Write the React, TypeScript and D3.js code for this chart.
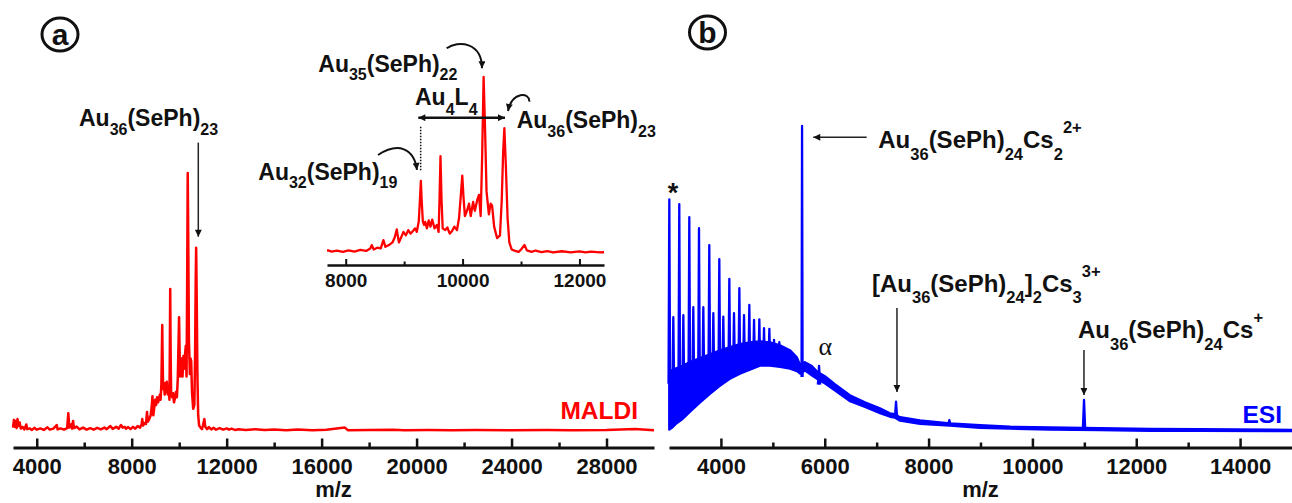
import React, { useEffect, useRef } from 'react';
import * as d3 from 'd3';

const W = 1292;
const H = 503;
const FONT = "'Liberation Sans', Arial, Helvetica, sans-serif";

// MALDI spectrum (panel a and its inset): [m/z, relative intensity %]
const maldi = [
  [3000,1.2],[3040,4.2],[3070,1.5],[3110,3.8],[3150,1],[3190,4.5],[3230,1.8],[3280,3.2],[3330,0.8],[3400,1.5],
  [3480,0.5],[3560,2.4],[3600,0.6],[3700,0.9],[3800,0.3],[3900,1.1],[4000,0.4],[4150,0.9],[4300,0.3],[4450,1.3],
  [4550,0.4],[4700,0.8],[4840,2.2],[4880,0.5],[5000,0.9],[5150,0.4],[5280,1],[5330,6.8],[5370,1.2],[5450,2.5],
  [5490,0.8],[5530,3.8],[5570,1],[5680,1.6],[5800,0.5],[5950,1.2],[6100,0.4],[6250,1],[6400,0.4],[6550,1.1],
  [6700,0.5],[6850,1.2],[6950,0.6],[7100,1.8],[7200,0.7],[7350,1.5],[7450,0.8],[7550,2.2],[7620,1.2],[7700,1.5],
  [7760,0.8],[7850,1.4],[7950,0.6],[8050,1.5],[8150,0.8],[8250,1.8],[8350,1.2],[8420,2.5],[8445,4.5],[8480,2],
  [8540,3],[8600,2.6],[8645,7.3],[8680,3.5],[8740,4.5],[8800,6],[8840,9],[8874,13.4],[8910,6],[8950,9],
  [8988,12],[9030,10],[9070,13],[9110,11],[9150,12.5],[9188,14],[9217,12],[9250,18],[9270,30],[9286,41],
  [9300,30],[9320,18],[9340,16],[9360,17.7],[9390,14],[9420,18.5],[9450,15],[9480,19],[9520,14],[9561,16],
  [9590,12],[9605,30],[9622,55],[9640,30],[9660,14],[9703,13],[9740,14.5],[9780,11],[9820,12.5],[9860,15],
  [9904,13],[9940,20],[9975,35],[9995,44],[10015,32],[10040,21],[10075,24],[10110,28],[10140,21],[10180,29],
  [10210,24],[10250,30],[10280,33],[10310,21],[10335,55],[10360,100],[10385,70],[10410,35],[10450,22],[10480,28],
  [10505,27],[10540,15],[10590,8.5],[10640,10],[10670,30],[10695,58],[10715,71],[10740,50],[10770,20],[10800,6],
  [10840,2],[10900,1.2],[10960,0.6],[11000,2],[11060,4.5],[11100,1.5],[11180,0.6],[11250,1.4],[11350,0.5],[11450,1.1],
  [11550,0.4],[11700,1],[11850,0.4],[12000,0.9],[12100,0.4],[12200,0.8],[12350,0.3],[12500,0.6],[12800,0.3],[13200,0.6],
  [13600,0.3],[14000,0.5],[14500,0.2],[15000,0.5],[15600,0.2],[16200,0.4],[16980,1.2],[17100,0.2],[18000,0.3],[19000,0.4],
  [19500,0.2],[20500,0.3],[21500,0.2],[22500,0.3],[24000,0.2],[25500,0.3],[26500,0.2],[28000,0.3],[29200,0.7],[30000,0.2]
];

// ESI spectrum (panel b): dense region as a min/max band, plus the spikes on top of it
const esiBandMz = [3000,3058,3135,3250,3404,3597,3790,3982,4175,4367,4560,4753,4945,5138,5331,5465,5523,5619,5754,5870,
  6005,6197,6486,6775,7064,7257,7353,7449,7834,8412,8990,9568,10338,11301,12264,13227,15000];
const esiBandLow = [0.7,1.3,2.6,4.0,6.5,9.5,12.4,15.0,17.3,19.0,20.3,21.6,21.6,21.2,20.6,19.8,19.0,20.0,18.4,17.1,
  15.8,13.5,10.0,8.1,6.1,4.9,4.6,3.6,2.6,2.0,1.3,1.0,0.7,0.5,0.3,0.3,0.2];
const esiBandHigh = [19.6,20.3,20.9,21.6,22.9,24.2,25.5,26.8,27.8,28.8,29.4,29.7,29.4,28.4,26.8,24.5,22.2,22.9,21.6,19.6,
  18.3,15.7,12.1,9.8,7.8,6.2,5.9,4.9,3.9,2.9,2.3,1.8,1.6,1.3,1.1,1.0,0.8];

const esiCombMz = [3006,3198,3391,3578,3776,3969,4162,4355,4547,4740,4933,5125,5318];
const esiCombInt = [76.0,74.5,70.2,66.6,61.1,56.5,50.0,47.0,41.5,36.8,33.7,29.4,26.1];
const esiSideMz = [3083,3276,3468,3661,3854,4046,4252,4445,4638,4830,5023];
const esiSideInt = [37.5,38.2,40.8,40.8,38.8,37.7,38.8,38.2,36.6,33.9,30.1];
const esiPeakMz = [5563,5890,7373,8400,10994];
const esiPeakInt = [100,21.6,9.9,3.9,10.5];

const ticksA = [4000,8000,12000,16000,20000,24000,28000];
const minorA = [6000,10000,14000,18000,22000,26000];
const ticksInset = [8000,10000,12000];
const minorInset = [9000,11000];
const ticksB = [4000,6000,8000,10000,12000,14000];
const minorB = [5000,7000,9000,11000,13000];

function drawAxis(g, scale, y, major, minor, o) {
  const ax = g.append('g').attr('transform', `translate(0,${y})`);
  ax.call(d3.axisBottom(scale).tickValues(major).tickSize(-o.major).tickSizeOuter(0)
    .tickPadding(o.pad).tickFormat(d3.format('d')));
  ax.select('.domain').attr('stroke', '#111').attr('stroke-width', o.lw);
  ax.selectAll('.tick line').attr('stroke', '#111').attr('stroke-width', o.tw);
  ax.selectAll('.tick text').attr('font-size', o.fs).attr('font-weight', 'bold')
    .attr('font-family', FONT).attr('fill', '#111');
  const mx = g.append('g').attr('transform', `translate(0,${y})`);
  mx.call(d3.axisBottom(scale).tickValues(minor).tickSize(-o.minor).tickSizeOuter(0).tickFormat(() => ''));
  mx.select('.domain').remove();
  mx.selectAll('.tick line').attr('stroke', '#111').attr('stroke-width', o.tw);
}

// text with subscripts ('b') and superscripts ('p')
function formula(g, x, y, parts, o) {
  const t = g.append('text').attr('x', x).attr('y', y).attr('font-family', FONT)
    .attr('font-weight', 'bold').attr('fill', '#111').attr('text-anchor', o.anchor || 'start');
  let cur = 0;
  parts.forEach(([s, k]) => {
    const target = k === 'b' ? o.sub : k === 'p' ? -o.sup : 0;
    t.append('tspan').attr('dy', target - cur).attr('font-size', k === 'n' ? o.fs : o.ss).text(s);
    cur = target;
  });
  return t;
}

export default function App() {
  const ref = useRef(null);

  useEffect(() => {
    const svg = d3.select(ref.current);
    svg.selectAll('*').remove();

    const defs = svg.append('defs');
    defs.append('marker').attr('id', 'head').attr('viewBox', '0 0 10 10')
      .attr('refX', 10).attr('refY', 5).attr('markerUnits', 'userSpaceOnUse')
      .attr('markerWidth', 9).attr('markerHeight', 7).attr('orient', 'auto-start-reverse')
      .append('path').attr('d', 'M0,0L10,5L0,10z').attr('fill', '#111');
    defs.append('clipPath').attr('id', 'insetClip').append('rect')
      .attr('x', 327).attr('y', 0).attr('width', 277).attr('height', 262);

    // ---------- panel a ----------
    const xA = d3.scaleLinear().domain([3000, 30000]).range([13, 654]);
    const yA = d3.scaleLinear().domain([0, 100]).range([430.7, 173]);
    const a = svg.append('g');

    a.append('path').datum(maldi)
      .attr('d', d3.line().x(d => xA(d[0])).y(d => yA(d[1])))
      .attr('fill', 'none').attr('stroke', '#ff0000').attr('stroke-width', 2.5).attr('stroke-linejoin', 'round');

    drawAxis(a, xA, 447.5, ticksA, minorA, { major: 9, minor: 5, pad: 11, lw: 3, tw: 2.5, fs: 22 });

    a.append('text').attr('x', (xA(3000) + xA(30000)) / 2).attr('y', 497).attr('text-anchor', 'middle')
      .attr('font-family', FONT).attr('font-weight', 'bold').attr('font-size', 22).attr('fill', '#111').text('m/z');

    a.append('text').attr('x', xA(29327)).attr('y', yA(4.5)).attr('text-anchor', 'end')
      .attr('font-family', FONT).attr('font-weight', 'bold').attr('font-size', 24.5).attr('fill', '#ff0000').text('MALDI');

    const lab = { fs: 23, ss: 16, sub: 8.5, sup: 10 };
    formula(a, xA(5780), yA(118.2), [['Au', 'n'], ['36', 'b'], ['(SePh)', 'n'], ['23', 'b']], lab);
    a.append('line').attr('x1', xA(10805)).attr('x2', xA(10805)).attr('y1', yA(111.8)).attr('y2', yA(75.3))
      .attr('stroke', '#222').attr('stroke-width', 1.5).attr('marker-end', 'url(#head)');

    // inset
    const xI = d3.scaleLinear().domain([7680, 12420]).range([327, 604]);
    const yI = d3.scaleLinear().domain([0, 100]).range([253, 77]);
    const ins = svg.append('g');
    ins.append('path').datum(maldi.filter(d => d[0] >= 7600 && d[0] <= 12500))
      .attr('clip-path', 'url(#insetClip)')
      .attr('d', d3.line().x(d => xI(d[0])).y(d => yI(d[1])))
      .attr('fill', 'none').attr('stroke', '#ff0000').attr('stroke-width', 2.3).attr('stroke-linejoin', 'round');
    drawAxis(ins, xI, 265, ticksInset, minorInset, { major: 6, minor: 3.5, pad: 8.5, lw: 2.5, tw: 2, fs: 19 });

    formula(ins, xI(7531), yI(103), [['Au', 'n'], ['35', 'b'], ['(SePh)', 'n'], ['22', 'b']], lab);
    formula(ins, xI(9186), yI(84.1), [['Au', 'n'], ['4', 'b'], ['L', 'n'], ['4', 'b']], { ...lab, sub: 10 });
    formula(ins, xI(10926), yI(70.9), [['Au', 'n'], ['36', 'b'], ['(SePh)', 'n'], ['23', 'b']], lab);
    formula(ins, xI(6504), yI(41.5), [['Au', 'n'], ['32', 'b'], ['(SePh)', 'n'], ['19', 'b']], lab);

    const curve = (p) => `M${xI(p[0][0])},${yI(p[0][1])}C${p.slice(1).map(q => `${xI(q[0])},${yI(q[1])}`).join(' ')}`;
    [
      [[9728, 116.3], [9922, 121], [10332, 119.9], [10332, 105]],
      [[11142, 86], [11154, 91.5], [10846, 92], [10777, 80.7]],
      [[8553, 55.7], [8895, 63.1], [9169, 59.7], [9220, 47.2]]
    ].forEach(p => {
      ins.append('path').attr('d', curve(p)).attr('fill', 'none').attr('stroke', '#111')
        .attr('stroke-width', 2).attr('marker-end', 'url(#head)');
    });
    ins.append('line').attr('x1', xI(9242)).attr('x2', xI(10726)).attr('y1', yI(76.9)).attr('y2', yI(76.9))
      .attr('stroke', '#111').attr('stroke-width', 2.5)
      .attr('marker-start', 'url(#head)').attr('marker-end', 'url(#head)');
    ins.append('line').attr('x1', xI(9283)).attr('x2', xI(9283)).attr('y1', yI(71.8)).attr('y2', yI(46.2))
      .attr('stroke', '#111').attr('stroke-width', 1.5).attr('stroke-dasharray', '1.5,1.5');

    // ---------- panel b ----------
    const xB = d3.scaleLinear().domain([3000, 15000]).range([669, 1292]);
    const yB = d3.scaleLinear().domain([0, 100]).range([432, 126]);
    const b = svg.append('g');
    const band = esiBandMz.map((m, i) => [m, esiBandLow[i], esiBandHigh[i]]);
    b.append('path').datum(band)
      .attr('d', d3.area().x(d => xB(d[0])).y0(d => yB(d[1])).y1(d => yB(d[2])))
      .attr('fill', '#0000ff').attr('stroke', '#0000ff').attr('stroke-width', 1.8).attr('stroke-linejoin', 'round');

    const bandTop = d3.scaleLinear().domain(esiBandMz).range(esiBandHigh).clamp(true);
    const spike = (m, v, hw) => {
      const base = yB(bandTop(m) * 0.8);
      return `M${xB(m - hw)},${base}L${xB(m)},${yB(v)}L${xB(m + hw)},${base}`;
    };
    const spikes = [
      ...esiCombMz.map((m, i) => [m, esiCombInt[i], 15]),
      ...esiSideMz.map((m, i) => [m, esiSideInt[i], 15]),
      ...esiPeakMz.map((m, i) => [m, esiPeakInt[i], i === 0 ? 10 : 22])
    ];
    b.selectAll('path.spike').data(spikes).enter().append('path').attr('class', 'spike')
      .attr('d', d => spike(d[0], d[1], d[2]))
      .attr('fill', '#0000ff').attr('stroke', '#0000ff').attr('stroke-width', 2.3).attr('stroke-linejoin', 'round');

    drawAxis(b, xB, 447.5, ticksB, minorB, { major: 9, minor: 5, pad: 11, lw: 3, tw: 2.5, fs: 22 });
    b.append('text').attr('x', (xB(3000) + xB(15000)) / 2).attr('y', 497).attr('text-anchor', 'middle')
      .attr('font-family', FONT).attr('font-weight', 'bold').attr('font-size', 22).attr('fill', '#111').text('m/z');
    b.append('text').attr('x', xB(14807)).attr('y', yB(2.9)).attr('text-anchor', 'end')
      .attr('font-family', FONT).attr('font-weight', 'bold').attr('font-size', 24.5).attr('fill', '#0000ff').text('ESI');

    b.append('text').attr('x', xB(3077)).attr('y', yB(75.2)).attr('text-anchor', 'middle')
      .attr('font-family', FONT).attr('font-weight', 'bold').attr('font-size', 27).attr('fill', '#111').text('*');
    b.append('text').attr('x', xB(6010)).attr('y', yB(25.2)).attr('text-anchor', 'middle')
      .attr('font-family', "'Liberation Serif', 'Times New Roman', serif").attr('font-size', 26).attr('fill', '#111').text('α');

    const labB = { fs: 24, ss: 16.5, sub: 11.5, sup: 15 };
    formula(b, xB(7031), yB(92.7), [['Au', 'n'], ['36', 'b'], ['(SePh)', 'n'], ['24', 'b'], ['Cs', 'n'], ['2', 'b'], ['2+', 'p']], labB);
    formula(b, xB(6910), yB(45.8), [['[Au', 'n'], ['36', 'b'], ['(SePh)', 'n'], ['24', 'b'], [']', 'n'], ['2', 'b'], ['Cs', 'n'], ['3', 'b'], ['3+', 'p']], labB);
    formula(b, xB(10878), yB(30.7), [['Au', 'n'], ['36', 'b'], ['(SePh)', 'n'], ['24', 'b'], ['Cs', 'n'], ['+', 'p']], labB);

    [[6808, 96.3, 5779, 96.3], [7391, 40.5, 7391, 13.1], [10993, 26.8, 10993, 12.1]].forEach(([m1, v1, m2, v2]) => {
      b.append('line').attr('x1', xB(m1)).attr('y1', yB(v1)).attr('x2', xB(m2)).attr('y2', yB(v2))
        .attr('stroke', '#222').attr('stroke-width', 1.5).attr('marker-end', 'url(#head)');
    });

    // panel letters
    [['a', 60, 34.5], ['b', 707.5, 32.5]].forEach(([s, cx, cy]) => {
      svg.append('ellipse').attr('cx', cx).attr('cy', cy).attr('rx', 18).attr('ry', 16.5)
        .attr('fill', 'none').attr('stroke', '#111').attr('stroke-width', 3);
      svg.append('text').attr('x', cx).attr('y', cy + 10).attr('text-anchor', 'middle')
        .attr('font-family', FONT).attr('font-weight', 'bold').attr('font-size', 30).attr('fill', '#111').text(s);
    });
  }, []);

  return (
    <svg ref={ref} width={W} height={H}
      style={{ position: 'absolute', left: 0, top: 0, background: '#fff', display: 'block' }} />
  );
}
